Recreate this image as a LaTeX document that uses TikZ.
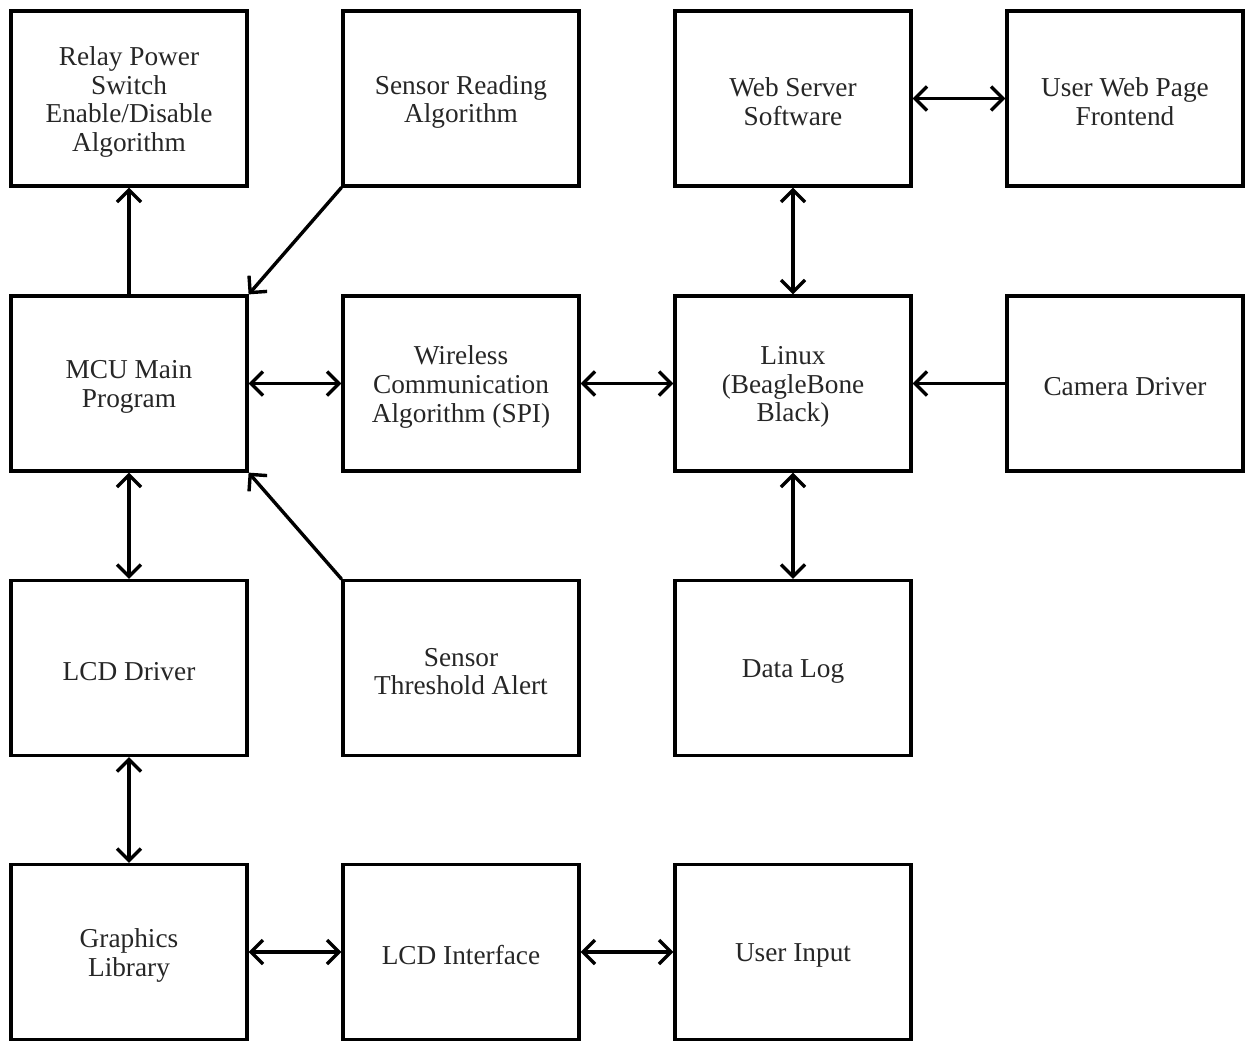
\documentclass[tikz,border=0pt]{standalone}
\usepackage{fontspec}
\setmainfont{Liberation Serif}
\usetikzlibrary{arrows.meta}
\begin{document}
\begin{tikzpicture}[x=1pt,y=-1pt,
  blk/.style={draw=black,line width=3.2pt,minimum width=236pt,minimum height=175pt},
  lbl/.style={align=center,inner sep=0pt,yshift=-3.5pt,font=\fontsize{27.3}{28.8}\selectfont,text=black!85},
  conn/.style={line width=3.4pt,line cap=round},
  tip/.style={-{Straight Barb[length=12pt,width=24pt,line width=3.4pt]}},
  both/.style={{Straight Barb[length=12pt,width=24pt,line width=3.4pt]}-{Straight Barb[length=12pt,width=24pt,line width=3.4pt]}}]
\useasboundingbox (0,0) rectangle (1252,1042);
\node[blk,label={[lbl]center:{Relay Power\\Switch\\Enable/Disable\\Algorithm}}] (relay) at (129,98.5) {};
\node[blk,label={[lbl]center:{Sensor Reading\\Algorithm}}] (sread) at (461,98.5) {};
\node[blk,label={[lbl]center:{Web Server\\Software}}] (web) at (793,98.5) {};
\node[blk,label={[lbl]center:{User Web Page\\Frontend}}] (page) at (1125,98.5) {};
\node[blk,label={[lbl]center:{MCU Main\\Program}}] (mcu) at (129,383.5) {};
\node[blk,label={[lbl]center:{Wireless\\Communication\\Algorithm (SPI)}}] (wire) at (461,383.5) {};
\node[blk,label={[lbl]center:{Linux\\(BeagleBone\\Black)}}] (linux) at (793,383.5) {};
\node[blk,label={[lbl]center:{Camera Driver}}] (cam) at (1125,383.5) {};
\node[blk,label={[lbl]center:{LCD Driver}}] (lcd) at (129,668) {};
\node[blk,label={[lbl]center:{Sensor\\Threshold Alert}}] (alert) at (461,668) {};
\node[blk,label={[lbl]center:{Data Log}}] (log) at (793,668) {};
\node[blk,label={[lbl]center:{Graphics\\Library}}] (gfx) at (129,952) {};
\node[blk,label={[lbl]center:{LCD Interface}}] (lcdi) at (461,952) {};
\node[blk,label={[lbl]center:{User Input}}] (uin) at (793,952) {};
\draw[conn,tip] (mcu.north) -- (relay.south);
\draw[conn,tip] (sread.south west) -- (mcu.north east);
\draw[conn,tip] (alert.north west) -- (mcu.south east);
\draw[conn,both] (mcu.east) -- (wire.west);
\draw[conn,both] (wire.east) -- (linux.west);
\draw[conn,tip] (cam.west) -- (linux.east);
\draw[conn,both] (web.east) -- (page.west);
\draw[conn,both] (web.south) -- (linux.north);
\draw[conn,both] (linux.south) -- (log.north);
\draw[conn,both] (mcu.south) -- (lcd.north);
\draw[conn,both] (lcd.south) -- (gfx.north);
\draw[conn,both] (gfx.east) -- (lcdi.west);
\draw[conn,both] (lcdi.east) -- (uin.west);
\end{tikzpicture}
\end{document}
